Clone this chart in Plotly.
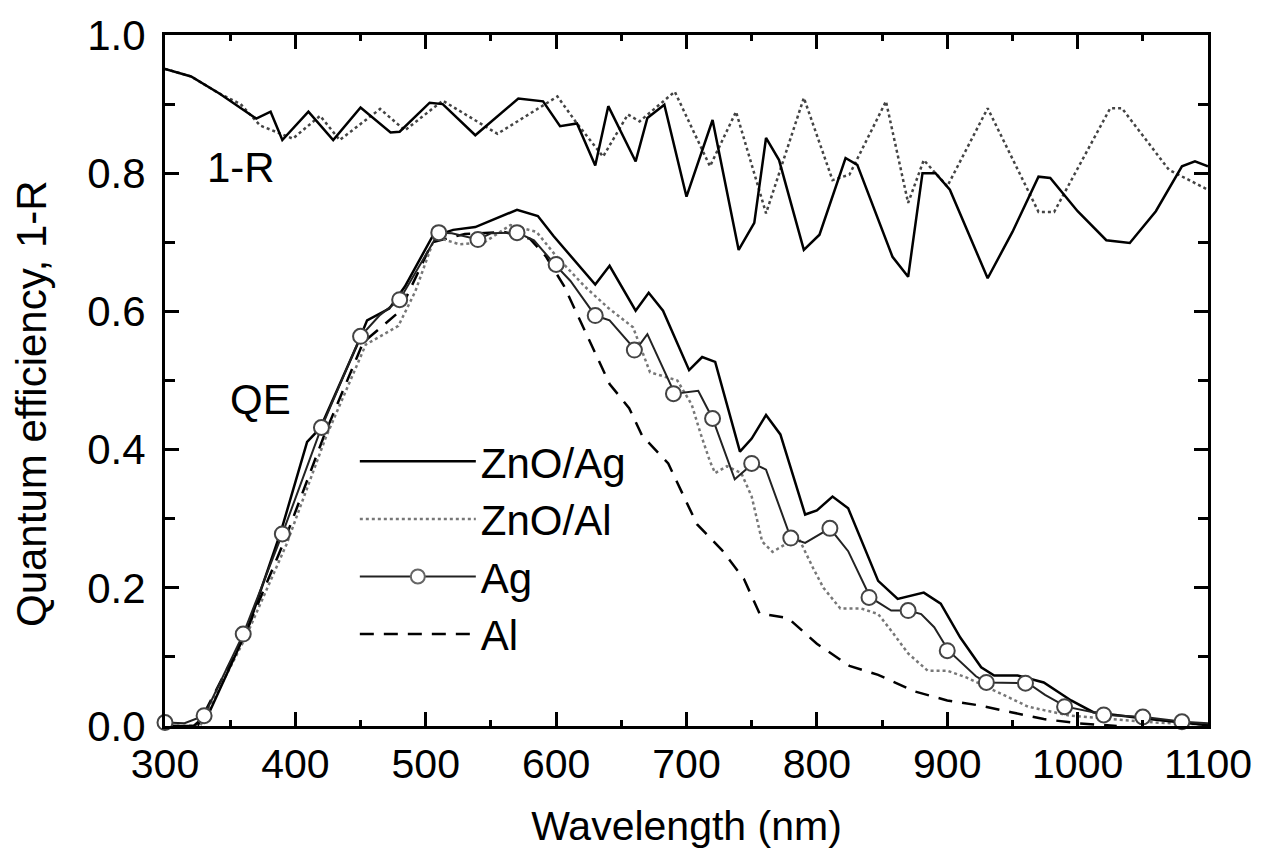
import plotly.graph_objects as go

# 1-R curves
r_solid_wl = [300, 320, 342, 370, 381, 390, 410, 429, 450, 473, 480, 503, 513, 538, 571, 590, 603, 616, 630, 640,
              661, 670, 683, 700, 720, 740, 752, 761, 771, 790, 802, 822, 831, 858, 870, 881, 891, 902, 931, 950,
              970, 979, 1000, 1022, 1040, 1060, 1080, 1090, 1100]
r_solid = [0.951, 0.940, 0.915, 0.879, 0.889, 0.848, 0.889, 0.848, 0.895, 0.859, 0.860, 0.902, 0.900, 0.855, 0.908,
           0.904, 0.868, 0.872, 0.811, 0.897, 0.817, 0.880, 0.899, 0.766, 0.877, 0.689, 0.728, 0.851, 0.819, 0.689,
           0.711, 0.822, 0.812, 0.679, 0.650, 0.800, 0.800, 0.776, 0.648, 0.715, 0.795, 0.793, 0.745, 0.703, 0.699,
           0.745, 0.810, 0.817, 0.810]

r_dot_wl = [300, 320, 342, 358, 373, 398, 419, 434, 465, 484, 513, 555, 601, 616, 636, 655, 664, 691, 718, 738,
            761, 790, 812, 825, 853, 870, 882, 900, 931, 970, 982, 1025, 1034, 1070, 1100]
r_dot = [0.951, 0.940, 0.915, 0.900, 0.869, 0.850, 0.883, 0.848, 0.893, 0.862, 0.905, 0.857, 0.911, 0.872, 0.824,
         0.885, 0.875, 0.918, 0.810, 0.889, 0.742, 0.909, 0.790, 0.798, 0.904, 0.757, 0.819, 0.781, 0.894, 0.744,
         0.744, 0.894, 0.894, 0.805, 0.776]

# QE curves
zag_wl = [300, 322, 334, 364, 389, 409, 419, 447, 455, 472, 484, 505, 521, 538, 570, 586, 598, 616, 630, 641,
          661, 671, 682, 702, 712, 722, 741, 750, 761, 772, 791, 800, 812, 824, 847, 862, 882, 895, 910, 926,
          936, 954, 974, 995, 1012, 1051, 1075, 1100]
zag_qe = [0.0, 0.0, 0.02, 0.144, 0.282, 0.411, 0.431, 0.550, 0.587, 0.604, 0.636, 0.708, 0.718, 0.722, 0.747,
          0.738, 0.709, 0.670, 0.639, 0.666, 0.601, 0.627, 0.601, 0.515, 0.534, 0.527, 0.397, 0.416, 0.450, 0.422,
          0.306, 0.312, 0.332, 0.315, 0.210, 0.184, 0.193, 0.177, 0.128, 0.085, 0.073, 0.073, 0.063, 0.037, 0.020,
          0.011, 0.006, 0.001]

zal_wl = [300, 327, 362, 393, 423, 454, 479, 492, 507, 526, 545, 565, 585, 600, 622, 640, 659, 672, 693, 704,
          711, 718, 722, 731, 742, 750, 758, 766, 775, 787, 797, 805, 818, 834, 847, 857, 870, 885, 900, 915,
          941, 962, 974, 994, 1025, 1060, 1100]
zal_qe = [0.0, 0.0, 0.129, 0.262, 0.416, 0.552, 0.579, 0.629, 0.708, 0.697, 0.700, 0.725, 0.715, 0.680, 0.636,
          0.605, 0.577, 0.512, 0.500, 0.465, 0.422, 0.383, 0.366, 0.376, 0.366, 0.332, 0.267, 0.252, 0.262, 0.268,
          0.229, 0.200, 0.170, 0.170, 0.162, 0.138, 0.105, 0.080, 0.080, 0.070, 0.047, 0.028, 0.023, 0.015, 0.010,
          0.005, 0.002]

ag_wl = [300, 315, 330, 360, 390, 420, 450, 465, 480, 510, 520, 540, 550, 570, 583, 599, 611, 630, 641, 661,
         670, 691, 709, 720, 737, 751, 761, 780, 791, 810, 824, 841, 857, 870, 880, 890, 901, 922, 930, 962,
         975, 991, 1022, 1051, 1081, 1100]
ag_qe = [0.005, 0.004, 0.015, 0.133, 0.278, 0.432, 0.564, 0.595, 0.617, 0.714, 0.713, 0.704, 0.713, 0.714, 0.703,
         0.668, 0.644, 0.594, 0.587, 0.544, 0.567, 0.481, 0.485, 0.445, 0.357, 0.380, 0.371, 0.272, 0.265, 0.286,
         0.253, 0.186, 0.167, 0.167, 0.162, 0.143, 0.109, 0.072, 0.063, 0.062, 0.045, 0.028, 0.016, 0.013, 0.006,
         0.004]

# circles on the Ag curve
ag_mark_wl = [300, 330, 360, 390, 420, 450, 480, 510, 540, 570, 600, 630, 660, 690, 720, 750, 780, 810, 840, 870,
              900, 930, 960, 990, 1020, 1050, 1080]
ag_mark_qe = [0.005, 0.015, 0.133, 0.278, 0.432, 0.564, 0.617, 0.714, 0.704, 0.714, 0.668, 0.594, 0.544, 0.481,
              0.445, 0.380, 0.272, 0.286, 0.186, 0.167, 0.109, 0.063, 0.062, 0.028, 0.016, 0.013, 0.006]

al_wl = [300, 325, 362, 392, 422, 452, 480, 505, 530, 560, 580, 592, 606, 625, 641, 656, 666, 686, 697, 708,
         727, 744, 756, 778, 800, 825, 847, 875, 900, 924, 949, 974, 1000, 1030]
al_qe = [0.0, 0.0, 0.135, 0.270, 0.420, 0.555, 0.600, 0.700, 0.712, 0.715, 0.705, 0.680, 0.637, 0.560, 0.495,
         0.460, 0.420, 0.380, 0.337, 0.292, 0.255, 0.213, 0.163, 0.156, 0.119, 0.087, 0.074, 0.050, 0.037, 0.030,
         0.020, 0.010, 0.004, 0.0]

FONT = "Liberation Sans, Arial"

fig = go.Figure()

fig.add_trace(go.Scatter(x=r_dot_wl, y=r_dot, mode="lines", showlegend=False,
                         line=dict(color="#444444", width=2.5, dash="dot")))
fig.add_trace(go.Scatter(x=r_solid_wl, y=r_solid, mode="lines", showlegend=False,
                         line=dict(color="black", width=2.5)))

fig.add_trace(go.Scatter(x=al_wl, y=al_qe, mode="lines", name="Al", legendrank=4,
                         line=dict(color="black", width=2.5, dash="14px,10px")))
fig.add_trace(go.Scatter(x=zal_wl, y=zal_qe, mode="lines", name="ZnO/Al", legendrank=2,
                         line=dict(color="#777777", width=2.5, dash="dot")))
fig.add_trace(go.Scatter(x=zag_wl, y=zag_qe, mode="lines", name="ZnO/Ag", legendrank=1,
                         line=dict(color="black", width=2.5)))
fig.add_trace(go.Scatter(x=ag_wl, y=ag_qe, mode="lines", showlegend=False,
                         line=dict(color="#222222", width=2)))
fig.add_trace(go.Scatter(x=ag_mark_wl, y=ag_mark_qe, mode="markers", showlegend=False, cliponaxis=False,
                         marker=dict(symbol="circle", size=15, color="white",
                                     line=dict(color="#444444", width=2))))
# legend entry for the Ag curve
fig.add_trace(go.Scatter(x=[None], y=[None], mode="lines+markers", name="Ag", legendrank=3,
                         line=dict(color="#222222", width=2),
                         marker=dict(symbol="circle", size=14, color="white",
                                     line=dict(color="#666666", width=2))))

fig.add_annotation(x=358, y=0.808, text="1-R", showarrow=False,
                   font=dict(family=FONT, size=42, color="black"))
fig.add_annotation(x=373, y=0.472, text="QE", showarrow=False,
                   font=dict(family=FONT, size=42, color="black"))
fig.add_annotation(x=-0.1275, y=0.466, xref="paper", yref="paper", text="Quantum efficiency, 1-R",
                   textangle=-90, showarrow=False, xanchor="center", yanchor="middle",
                   font=dict(family=FONT, size=42, color="black"))

axis_common = dict(showline=True, linecolor="black", linewidth=3, mirror="ticks", ticks="inside",
                   ticklen=14, tickwidth=2.5, tickcolor="black", showgrid=False, zeroline=False)

fig.update_xaxes(range=[300, 1100], dtick=100, tick0=300,
                 minor=dict(dtick=50, ticks="inside", ticklen=6, tickwidth=2.5, tickcolor="black"),
                 tickfont=dict(family=FONT, size=41, color="black"),
                 ticklabelstandoff=0,
                 title=dict(text="Wavelength (nm)", standoff=26,
                            font=dict(family=FONT, size=41, color="black")),
                 **axis_common)
fig.update_yaxes(range=[0, 1], dtick=0.2, tick0=0, tickformat=".1f",
                 minor=dict(dtick=0.1, ticks="inside", ticklen=10, tickwidth=2.5, tickcolor="black"),
                 tickfont=dict(family=FONT, size=42, color="black"),
                 ticklabelstandoff=8,
                 **axis_common)

fig.update_layout(
    width=1276, height=862,
    margin=dict(l=165, r=68, t=31, b=136),
    paper_bgcolor="white", plot_bgcolor="white",
    legend=dict(x=0.182, y=0.432, xanchor="left", yanchor="top", bgcolor="rgba(0,0,0,0)",
                itemwidth=116, tracegroupgap=0,
                font=dict(family=FONT, size=42, color="black")),
)

fig.write_html("out.html", config={"displayModeBar": False},
               post_script="document.body.style.margin='0px';")
